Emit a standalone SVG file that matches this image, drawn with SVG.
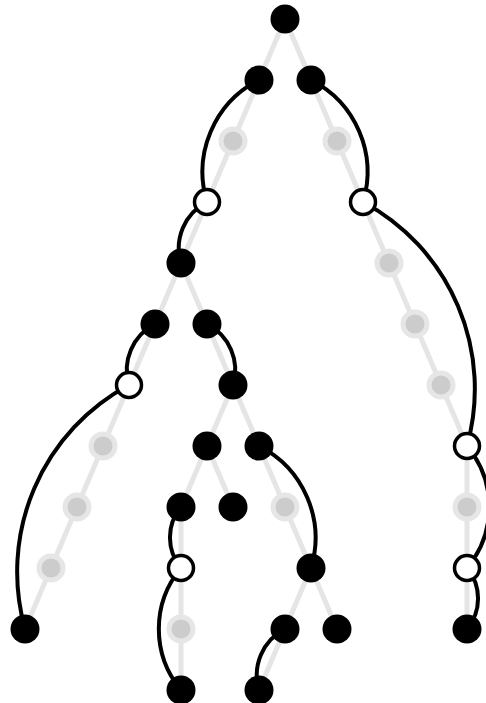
<svg xmlns="http://www.w3.org/2000/svg" width="486" height="703" viewBox="0 0 486 703">
<style>
.tree{stroke:#e5e5e5;stroke-width:5;fill:none;stroke-linecap:round}
.jump{stroke:#000;stroke-width:4;fill:none}
.b{fill:#000}
.w{fill:#fff;stroke:#000;stroke-width:3.5}
.g{fill:#cccccc;stroke:#e6e6e6;stroke-width:5}
</style>
<rect width="486" height="703" fill="#fff"/>
<g id="tree-links" class="tree">
<path d="M285,19 L259,80 L233,141 L207,202 L181,263"/>
<path d="M285,19 L311,80 L337,141 L363,202 L389,263 L415,324 L441,385 L467,446 L467,629"/>
<path d="M181,263 L155,324 L129,385 L103,446 L77,507 L51,568 L25,629"/>
<path d="M181,263 L207,324 L233,385 L207,446 L181,507 L181,690"/>
<path d="M233,385 L259,446 L285,507 L311,568 L285,629 L259,690"/>
<path d="M207,446 L233,507"/>
<path d="M311,568 L337,629"/>
</g>
<g id="connectors" class="jump">
<path d="M259,80 A103,103 0 0 0 207,202"/>
<path d="M311,80 A103,103 0 0 1 363,202"/>
<path d="M207,202 A51.7,51.7 0 0 0 181,263"/>
<path d="M363,202 A212,212 0 0 1 467,446"/>
<path d="M155,324 A51.7,51.7 0 0 0 129,385"/>
<path d="M207,324 A51.7,51.7 0 0 1 233,385"/>
<path d="M129,385 A212,212 0 0 0 25,629"/>
<path d="M259,446 A103,103 0 0 1 311,568"/>
<path d="M467,446 A95,95 0 0 1 467,568"/>
<path d="M181,507 A47.6,47.6 0 0 0 181,568"/>
<path d="M181,568 A95,95 0 0 0 181,690"/>
<path d="M467,568 A47.6,47.6 0 0 1 467,629"/>
<path d="M285,629 A51.7,51.7 0 0 0 259,690"/>
</g>
<g id="n0"><circle class="b" cx="285" cy="19" r="14.5"/></g>
<g id="n1"><circle class="b" cx="259" cy="80" r="14.5"/></g>
<g id="n2"><circle class="b" cx="311" cy="80" r="14.5"/></g>
<g id="n3"><circle class="g" cx="233" cy="141" r="12"/></g>
<g id="n4"><circle class="g" cx="337" cy="141" r="12"/></g>
<g id="n5"><circle class="w" cx="207" cy="202" r="12.5"/></g>
<g id="n6"><circle class="w" cx="363" cy="202" r="12.5"/></g>
<g id="n7"><circle class="b" cx="181" cy="263" r="14.5"/></g>
<g id="n8"><circle class="g" cx="389" cy="263" r="12"/></g>
<g id="n9"><circle class="b" cx="155" cy="324" r="14.5"/></g>
<g id="n10"><circle class="b" cx="207" cy="324" r="14.5"/></g>
<g id="n11"><circle class="g" cx="415" cy="324" r="12"/></g>
<g id="n12"><circle class="w" cx="129" cy="385" r="12.5"/></g>
<g id="n13"><circle class="b" cx="233" cy="385" r="14.5"/></g>
<g id="n14"><circle class="g" cx="441" cy="385" r="12"/></g>
<g id="n15"><circle class="g" cx="103" cy="446" r="12"/></g>
<g id="n16"><circle class="b" cx="207" cy="446" r="14.5"/></g>
<g id="n17"><circle class="b" cx="259" cy="446" r="14.5"/></g>
<g id="n18"><circle class="w" cx="467" cy="446" r="12.5"/></g>
<g id="n19"><circle class="g" cx="77" cy="507" r="12"/></g>
<g id="n20"><circle class="b" cx="181" cy="507" r="14.5"/></g>
<g id="n21"><circle class="b" cx="233" cy="507" r="14.5"/></g>
<g id="n22"><circle class="g" cx="285" cy="507" r="12"/></g>
<g id="n23"><circle class="g" cx="467" cy="507" r="12"/></g>
<g id="n24"><circle class="g" cx="51" cy="568" r="12"/></g>
<g id="n25"><circle class="w" cx="181" cy="568" r="12.5"/></g>
<g id="n26"><circle class="b" cx="311" cy="568" r="14.5"/></g>
<g id="n27"><circle class="w" cx="467" cy="568" r="12.5"/></g>
<g id="n28"><circle class="b" cx="25" cy="629" r="14.5"/></g>
<g id="n29"><circle class="g" cx="181" cy="629" r="12"/></g>
<g id="n30"><circle class="b" cx="285" cy="629" r="14.5"/></g>
<g id="n31"><circle class="b" cx="337" cy="629" r="14.5"/></g>
<g id="n32"><circle class="b" cx="467" cy="629" r="14.5"/></g>
<g id="n33"><circle class="b" cx="181" cy="690" r="14.5"/></g>
<g id="n34"><circle class="b" cx="259" cy="690" r="14.5"/></g>
</svg>
